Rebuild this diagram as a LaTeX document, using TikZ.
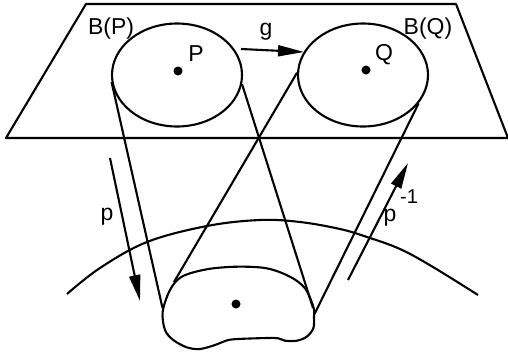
\documentclass[tikz,border=0pt]{standalone}
\usepackage{fontspec}
\setmainfont{Liberation Sans}
\usetikzlibrary{shapes.geometric,arrows.meta}
\tikzset{
  ln/.style={line width=2.1pt, line join=round},
  ball/.style={ellipse, draw, line width=2.1pt, minimum width=130pt, minimum height=103pt, inner sep=0pt},
  lbl/.style={inner sep=0pt, font=\fontsize{23}{25}\selectfont},
  dotm/.style={circle, fill, inner sep=0pt, minimum size=9pt},
  arr/.style={ln, -{Triangle[length=26pt,width=11pt]}}
}
\begin{document}
\begin{tikzpicture}[x=1pt,y=-1pt]
\useasboundingbox (0,0) rectangle (508,354);
% plane
\draw[ln] (86,4) coordinate (t1) -- (456,4) coordinate (t2) -- (508,138) coordinate (t3) -- (6,138) coordinate (t4) -- cycle;
% balls
\node[ball] (BP) at (177,75) {};
\node[ball] (BQ) at (363,75) {};
\node[dotm] (dP) at (178,71) {};
\node[dotm] (dQ) at (366,70) {};
\node[lbl] (lBP) at (111,29) {B(P)};
\node[lbl] (lP) at (196,54) {P};
\node[lbl] (lBQ) at (428,29) {B(Q)};
\node[lbl] (lQ) at (384,55) {Q};
\node[lbl] (lg) at (266,32) {g};
% g arrow
\coordinate (g1) at (241,49);
\coordinate (g2) at (304,52);
\draw[arr] (g1) -- (g2);
% earth arc
\draw[ln] plot[smooth, tension=0.6] coordinates {(67,294) (100,268) (147,242) (207,226) (260,220) (300,222) (340,229) (367,237) (400,249) (433,267) (478,295)};
% blob
\draw[ln] plot[smooth cycle, tension=0.55] coordinates {(162.7,311.7) (170,290) (181.7,276.7) (206.7,269.3) (236.7,266.7) (266.7,268.3) (290,276.7) (305,288.3) (313.3,306.7) (314,316.7) (313.3,328.3) (306.7,336.7) (296.7,340.7) (285,340.7) (278.3,338.3) (266.7,338) (233.3,339.3) (223.3,341.7) (215,345) (200,349) (186.7,347.3) (173.3,340) (165,330)};
\node[dotm] (dB) at (236,304) {};
\coordinate (b1) at (162.5,308);
\coordinate (b2) at (174,282);
\coordinate (b3) at (313,308);
\coordinate (b4) at (314.5,314);
% tangent lines
\draw[ln] (BP.186) -- (b1);
\draw[ln] (BP.-8) -- (b3);
\draw[ln] (BQ.178) -- (b2);
\draw[ln] (BQ.-27) -- (b4);
% p arrows
\coordinate (p1) at (110,158);
\coordinate (p2) at (140,301);
\draw[arr] (p1) -- (p2);
\node[lbl] (lp) at (107,217) {p};
\coordinate (q1) at (348,280);
\coordinate (q2) at (408,163);
\draw[arr] (q1) -- (q2);
\node[lbl] (lpi) at (390,218) {p};
\node[lbl, font=\fontsize{20}{22}\selectfont] (lm1) at (409,197) {-1};
\end{tikzpicture}
\end{document}
